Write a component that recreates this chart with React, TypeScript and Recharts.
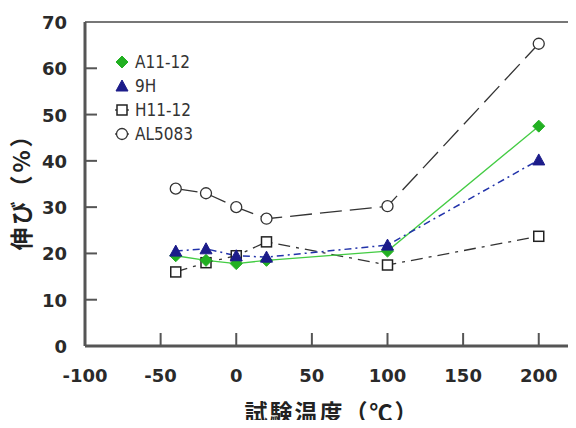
import { LineChart, Line, XAxis, YAxis, ReferenceLine, Legend, Label } from "recharts";

const temps = [-40, -20, 0, 20, 100, 200];
const a1112 = [19.5, 18.5, 17.8, 18.5, 20.5, 47.5];
const nineH = [20.5, 21, 19.5, 19.2, 21.8, 40.2];
const h1112 = [16, 18, 19.5, 22.5, 17.5, 23.7];
const al5083 = [34, 33, 30, 27.5, 30.2, 65.3];

const xTicks = [-100, -50, 0, 50, 100, 150, 200];
const yTicks = [0, 10, 20, 30, 40, 50, 60, 70];

const data = temps.map((t, i) => ({
    temp: t,
    a1112: a1112[i],
    nineH: nineH[i],
    h1112: h1112[i],
    al5083: al5083[i],
}));

const tickFont = {
    fontFamily: "'DejaVu Sans', sans-serif",
    fontWeight: 700,
    fontSize: 18,
    fill: "#2a2a2a",
};

const Marker = ({ kind, cx, cy }: { kind: string; cx: number; cy: number }) => {
    if (kind === "diamond")
        return <path d={`M${cx},${cy - 6}L${cx + 6},${cy}L${cx},${cy + 6}L${cx - 6},${cy}Z`} fill="#22b022" stroke="#22b022" />;
    if (kind === "triangle")
        return <path d={`M${cx},${cy - 6}L${cx + 6},${cy + 5}L${cx - 6},${cy + 5}Z`} fill="#1c1c8a" stroke="#1c1c8a" />;
    if (kind === "square")
        return <rect x={cx - 5} y={cy - 5} width={10} height={10} fill="#fff" stroke="#222" strokeWidth={1.5} />;
    return <circle cx={cx} cy={cy} r={5.5} fill="#fff" stroke="#333" strokeWidth={1.3} />;
};

const dotFor = (kind: string) => (p: any) =>
    p.cx == null ? <g key={p.index} /> : <Marker key={p.index} kind={kind} cx={p.cx} cy={p.cy} />;

const YTick = ({ x, y, payload }: any) => (
    <g>
        {payload.value > 0 && payload.value < 70 && (
            <line x1={x} x2={x + 12} y1={y} y2={y} stroke="#555" strokeWidth={2} />
        )}
        <text x={x - 18} y={y} dy={7} textAnchor="end" {...tickFont}>
            {payload.value}
        </text>
    </g>
);

const XTick = ({ x, y, payload }: any) => (
    <g>
        {payload.value > -100 && (
            <line x1={x} x2={x} y1={y} y2={y - 13} stroke="#555" strokeWidth={2} />
        )}
        <text x={x} y={y + 36} textAnchor="middle" {...tickFont}>
            {payload.value}
        </text>
    </g>
);

const legendItems = [
    { name: "A11-12", kind: "diamond" },
    { name: "9H", kind: "triangle" },
    { name: "H11-12", kind: "square" },
    { name: "AL5083", kind: "circle" },
];

const LegendBox = () => (
    <div>
        {legendItems.map((it) => (
            <div key={it.name} style={{ display: "flex", alignItems: "center", height: 24 }}>
                <svg width={18} height={16}>
                    {(it.kind === "square" || it.kind === "circle") && (
                        <line x1={2} x2={16} y1={8} y2={8} stroke="#333" strokeWidth={1.3} />
                    )}
                    <Marker kind={it.kind} cx={9} cy={8} />
                </svg>
                <span
                    style={{
                        marginLeft: 4,
                        fontFamily: "'DejaVu Sans Condensed', 'Liberation Sans', sans-serif",
                        fontSize: 17,
                        color: "#333",
                    }}
                >
                    {it.name}
                </span>
            </div>
        ))}
    </div>
);

const YTitle = ({ viewBox }: any) => {
    const cy = viewBox.y + viewBox.height / 2 + 2;
    return (
        <text
            x={20}
            y={cy}
            transform={`rotate(-90 20 ${cy})`}
            textAnchor="middle"
            dominantBaseline="central"
            fontFamily="'Noto Sans CJK JP', sans-serif"
            fontWeight={700}
            fontSize={23}
            letterSpacing={3}
            fill="#222"
        >
            伸び（%）
        </text>
    );
};

const XTitle = ({ viewBox }: any) => (
    <text
        x={332}
        y={viewBox.y + 65}
        textAnchor="middle"
        dominantBaseline="central"
        fontFamily="'Noto Sans CJK JP', sans-serif"
        fontWeight={700}
        fontSize={23}
        letterSpacing={2}
        fill="#222"
    >
        試験温度（℃）
    </text>
);

export default function App() {
    return (
        <div style={{ margin: -8, width: 576, height: 428, background: "#fff" }}>
            <LineChart
                width={576}
                height={428}
                data={data}
                margin={{ top: 22, right: 7, left: 0, bottom: 0 }}
            >
                <XAxis
                    type="number"
                    dataKey="temp"
                    domain={[-100, 220]}
                    ticks={xTicks}
                    height={82}
                    tickSize={0}
                    tickMargin={0}
                    tickLine={false}
                    tick={<XTick />}
                    axisLine={{ stroke: "#555", strokeWidth: 3 }}
                    interval={0}
                >
                    <Label content={<XTitle />} />
                </XAxis>
                <YAxis
                    type="number"
                    domain={[0, 70]}
                    ticks={yTicks}
                    width={85}
                    tickSize={0}
                    tickMargin={0}
                    tickLine={false}
                    tick={<YTick />}
                    axisLine={{ stroke: "#555", strokeWidth: 3 }}
                    interval={0}
                >
                    <Label content={<YTitle />} />
                </YAxis>
                <ReferenceLine y={70} stroke="#777" strokeWidth={2} />
                <ReferenceLine x={220} stroke="#bbb" strokeWidth={1} />
                <Legend
                    layout="vertical"
                    verticalAlign="middle"
                    align="center"
                    content={<LegendBox />}
                    wrapperStyle={{ left: 113, top: 50, width: 110 }}
                />
                <Line
                    dataKey="al5083"
                    stroke="#333"
                    strokeWidth={1.3}
                    strokeDasharray="22 8"
                    dot={dotFor("circle")}
                    isAnimationActive={false}
                />
                <Line
                    dataKey="h1112"
                    stroke="#333"
                    strokeWidth={1.3}
                    strokeDasharray="12 6 3 6"
                    dot={dotFor("square")}
                    isAnimationActive={false}
                />
                <Line
                    dataKey="a1112"
                    stroke="#44cc44"
                    strokeWidth={1.3}
                    dot={dotFor("diamond")}
                    isAnimationActive={false}
                />
                <Line
                    dataKey="nineH"
                    stroke="#2233aa"
                    strokeWidth={1.5}
                    strokeDasharray="7 4 2 4"
                    dot={dotFor("triangle")}
                    isAnimationActive={false}
                />
            </LineChart>
        </div>
    );
}
